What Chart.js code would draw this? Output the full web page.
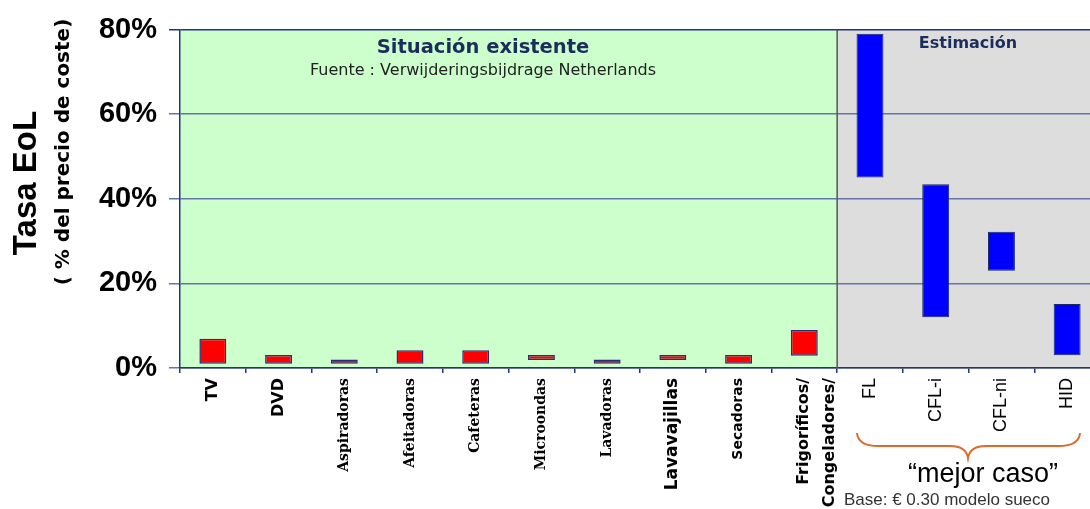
<!DOCTYPE html>
<html>
<head>
<meta charset="utf-8">
<script src="https://cdn.jsdelivr.net/npm/chart.js@4/dist/chart.umd.min.js"></script>
<style>
  html, body { margin: 0; padding: 0; background: #fff; overflow: hidden; }
  #wrap { width: 1100px; height: 509px; }
</style>
</head>
<body>
<div id="wrap"><canvas id="myChart" width="1100" height="509"></canvas></div>
<script>
// categorias (la ultima de "existente" va en dos lineas)
const categories = ['TV', 'DVD', 'Aspiradoras', 'Afeitadoras', 'Cafeteras', 'Microondas',
    'Lavadoras', 'Lavavajillas', 'Secadoras', ['Frigoríficos/', 'Congeladores/'],
    'FL', 'CFL-i', 'CFL-ni', 'HID'];

// situacion existente (rojo), % del precio de coste
const existingLow  = [1.0, 1.0, 1.0, 1.0, 1.0, 1.9, 1.0, 1.9, 1.0, 2.9];
const existingHigh = [6.9, 3.1, 2.0, 4.2, 4.2, 3.1, 2.0, 3.1, 3.1, 9.0];

// estimacion (azul)
const estimateLow  = [45, 12, 23, 3];
const estimateHigh = [79, 43.4, 32.2, 15.1];

const yTicks = [0, 20, 40, 60, 80];

const nExisting = existingLow.length;
const existingData = existingLow.map((lo, i) => [lo, existingHigh[i]])
    .concat(estimateLow.map(() => null));
const estimateData = existingLow.map(() => null)
    .concat(estimateLow.map((lo, i) => [lo, estimateHigh[i]]));

function tickFont(ctx) {
    const i = ctx.index;
    if (i <= 1) return { family: 'DejaVu Sans', weight: 'bold', size: 16 };
    if (i >= 2 && i <= 6) return { family: 'DejaVu Serif', weight: 'bold', size: 14 };
    if (i === 7) return { family: 'DejaVu Sans', weight: 'bold', size: 17 };
    if (i === 8) return { family: 'DejaVu Sans', weight: 'bold', size: 14 };
    if (i === 9) return { family: 'DejaVu Sans', weight: 'bold', size: 16, lineHeight: 1.6 };
    return { family: 'Liberation Sans', size: 18 };
}

const backgroundPlugin = {
    id: 'zonas',
    beforeDraw(chart) {
        const { ctx, chartArea: a, scales: { x } } = chart;
        const split = x.getPixelForValue(nExisting - 0.5);
        ctx.save();
        ctx.fillStyle = '#ccffcc';
        ctx.fillRect(a.left, a.top, split - a.left, a.bottom - a.top);
        ctx.fillStyle = '#dddddd';
        ctx.fillRect(split, a.top, a.right - split, a.bottom - a.top);
        ctx.restore();
    },
    beforeDatasetsDraw(chart) {
        const { ctx, chartArea: a, scales: { x } } = chart;
        const split = x.getPixelForValue(nExisting - 0.5);
        ctx.save();
        ctx.strokeStyle = '#555555';
        ctx.lineWidth = 1.5;
        ctx.beginPath();
        ctx.moveTo(split, a.top);
        ctx.lineTo(split, a.bottom);
        ctx.stroke();
        ctx.restore();
    },
    afterDraw(chart) {
        const ctx = chart.ctx;
        ctx.save();
        // titulo eje y
        ctx.fillStyle = '#000';
        ctx.textAlign = 'center';
        ctx.textBaseline = 'middle';
        ctx.save();
        ctx.translate(27, 183);
        ctx.rotate(-Math.PI / 2);
        ctx.font = 'bold 33px "Liberation Sans"';
        ctx.fillText('Tasa EoL', 0, 0);
        ctx.restore();
        ctx.save();
        ctx.translate(64, 152);
        ctx.rotate(-Math.PI / 2);
        ctx.font = 'bold 20px "DejaVu Sans"';
        ctx.fillText('( % del precio de coste)', 0, 0);
        ctx.restore();

        // textos de las zonas
        ctx.fillStyle = '#1c2d5c';
        ctx.font = 'bold 19.5px "DejaVu Sans"';
        ctx.fillText('Situación existente', 483, 48);
        ctx.fillStyle = '#222';
        ctx.font = '16px "DejaVu Sans"';
        ctx.fillText('Fuente : Verwijderingsbijdrage Netherlands', 483, 71);
        ctx.fillStyle = '#1c2d5c';
        ctx.font = 'bold 16px "DejaVu Sans"';
        ctx.fillText('Estimación', 968, 44);

        // llave "mejor caso"
        ctx.strokeStyle = '#dd6a2a';
        ctx.lineWidth = 2;
        ctx.beginPath();
        ctx.moveTo(857, 433);
        ctx.quadraticCurveTo(858, 446, 878, 446);
        ctx.lineTo(950, 446);
        ctx.quadraticCurveTo(966, 446, 968, 458);
        ctx.quadraticCurveTo(970, 446, 986, 446);
        ctx.lineTo(1059, 446);
        ctx.quadraticCurveTo(1079, 446, 1080, 433);
        ctx.stroke();

        ctx.fillStyle = '#000';
        ctx.font = '27px "Liberation Sans"';
        ctx.textBaseline = 'alphabetic';
        ctx.fillText('\u201Cmejor caso\u201D', 983, 482);
        ctx.fillStyle = '#333';
        ctx.font = '17px "Liberation Sans"';
        ctx.fillText('Base: \u20AC 0.30 modelo sueco', 947, 505);
        ctx.restore();
    }
};

const ctx = document.getElementById('myChart');
const myChart = new Chart(ctx, {
    type: 'bar',
    data: {
        labels: categories,
        datasets: [{
            label: 'Situación existente',
            data: existingData,
            backgroundColor: '#ff0000',
            borderColor: '#2b2b7a',
            borderWidth: 1.5,
            borderSkipped: false,
            barPercentage: 0.41,
            categoryPercentage: 1,
            grouped: false
        }, {
            label: 'Estimación',
            data: estimateData,
            backgroundColor: '#0000ff',
            borderColor: '#1a2a60',
            borderWidth: 1,
            borderSkipped: false,
            barPercentage: 0.41,
            categoryPercentage: 1,
            grouped: false
        }]
    },
    options: {
        responsive: false,
        animation: false,
        devicePixelRatio: 1,
        layout: { padding: { top: 29.5, left: 0, right: 0, bottom: 0 } },
        plugins: {
            legend: { display: false },
            tooltip: { enabled: false }
        },
        scales: {
            x: {
                grid: {
                    display: true,
                    drawOnChartArea: false,
                    drawTicks: true,
                    tickLength: 5,
                    color: '#23357a',
                    lineWidth: 1.5
                },
                border: { color: '#23357a', width: 1.5 },
                ticks: {
                    autoSkip: false,
                    maxRotation: 90,
                    minRotation: 90,
                    padding: 5,
                    color: '#000',
                    font: tickFont
                },
                afterFit(scale) {
                    scale.height = 141;
                    scale.paddingLeft = 0;
                    scale.paddingRight = 0;
                }
            },
            y: {
                min: 0,
                max: 80,
                afterBuildTicks(scale) {
                    scale.ticks = yTicks.map(v => ({ value: v }));
                },
                grid: {
                    color: (c) => (c.tick && c.tick.value === 80) ? '#23357a' : '#6674aa',
                    lineWidth: 1.5,
                    tickLength: 11
                },
                border: { color: '#23357a', width: 1.5 },
                ticks: {
                    padding: 12,
                    color: '#000',
                    font: { family: 'Liberation Sans', weight: 'bold', size: 29 },
                    callback: (v) => v + '%'
                },
                afterFit(scale) {
                    scale.width = 180;
                    scale.paddingTop = 0;
                    scale.paddingBottom = 0;
                }
            }
        }
    },
    plugins: [backgroundPlugin]
});
</script>
</body>
</html>
